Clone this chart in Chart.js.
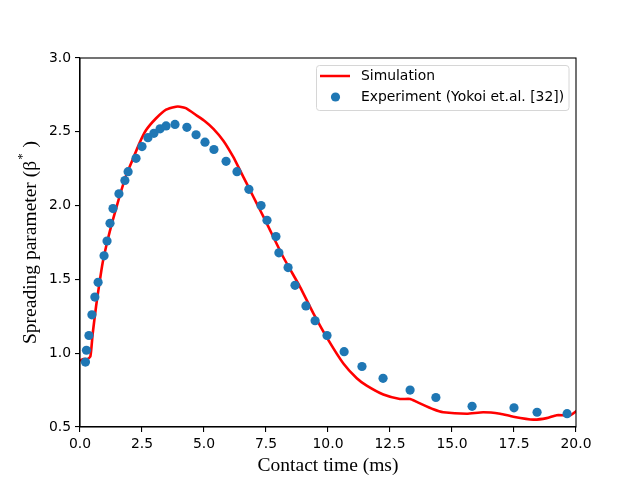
<!DOCTYPE html>
<html><head><meta charset="utf-8">
<script src="https://cdn.jsdelivr.net/npm/chart.js@4/dist/chart.umd.min.js"></script>
<style>html,body{margin:0;padding:0;background:#fff}canvas{display:block}</style>
</head><body>
<canvas id="c" width="640" height="480" style="width:640px;height:480px"></canvas>
<script>
// ---- data ----
const simTime = [0.0, 0.15, 0.3, 0.42, 0.51, 0.65, 0.78, 0.91, 1.12, 1.32, 1.59, 1.85, 2.12, 2.39, 2.66, 3.06, 3.47, 3.87, 4.03, 4.27, 4.71, 5.05, 5.38, 5.78, 6.18, 6.45, 6.72, 6.99, 7.26, 7.53, 8.20, 8.87, 9.41, 10.01, 10.62, 11.16, 11.56, 12.23, 12.90, 13.31, 13.58, 14.25, 14.65, 15.59, 16.26, 16.94, 17.47, 18.28, 18.82, 19.22, 19.76, 20.03];
const simSpread = [0.95, 0.96, 0.96, 0.98, 1.13, 1.32, 1.47, 1.61, 1.77, 1.90, 2.06, 2.20, 2.31, 2.42, 2.51, 2.59, 2.65, 2.67, 2.67, 2.66, 2.61, 2.57, 2.52, 2.44, 2.33, 2.24, 2.15, 2.06, 1.97, 1.88, 1.65, 1.45, 1.27, 1.09, 0.93, 0.83, 0.78, 0.72, 0.69, 0.69, 0.67, 0.62, 0.60, 0.59, 0.60, 0.59, 0.57, 0.55, 0.56, 0.58, 0.58, 0.61];
const expTime = [0.22, 0.26, 0.36, 0.48, 0.60, 0.73, 0.97, 1.09, 1.21, 1.33, 1.57, 1.81, 1.94, 2.26, 2.50, 2.74, 2.98, 3.23, 3.47, 3.83, 4.31, 4.68, 5.04, 5.40, 5.89, 6.33, 6.81, 7.30, 7.54, 7.90, 8.02, 8.39, 8.67, 9.11, 9.48, 9.96, 10.65, 11.37, 12.22, 13.31, 14.35, 15.81, 17.50, 18.43, 19.64];
const expSpread = [0.94, 1.02, 1.12, 1.26, 1.38, 1.48, 1.66, 1.76, 1.88, 1.98, 2.08, 2.17, 2.23, 2.32, 2.40, 2.46, 2.49, 2.52, 2.54, 2.55, 2.53, 2.48, 2.43, 2.38, 2.30, 2.23, 2.11, 2.00, 1.90, 1.79, 1.68, 1.58, 1.46, 1.32, 1.22, 1.12, 1.01, 0.91, 0.83, 0.75, 0.70, 0.64, 0.63, 0.60, 0.59];
const xTicks = [0, 2.5, 5, 7.5, 10, 12.5, 15, 17.5, 20];
const yTicks = [0.5, 1.0, 1.5, 2.0, 2.5, 3.0];
const seriesNames = ['Simulation', 'Experiment (Yokoi et.al. [32])'];
const xLabel = 'Contact time (ms)';
const yLabelParts = ['Spreading parameter (β', '*', ' )'];

const TICK_FONT = {family: 'DejaVu Sans', size: 13.9};
const SERIF = '"Liberation Serif", "Times New Roman", serif';

const framePlugin = {
  id: 'frame',
  afterDatasetsDraw(chart) {
    const {ctx, chartArea: a} = chart;
    ctx.save();
    ctx.strokeStyle = '#000';
    ctx.lineWidth = 1.1;
    ctx.strokeRect(a.left, a.top, a.right - a.left, a.bottom - a.top);
    ctx.restore();
  },
  afterDraw(chart) {
    const {ctx, chartArea: a} = chart;
    // y label with superscript
    ctx.save();
    const big = '19.5px ' + SERIF, small = '13px ' + SERIF;
    ctx.font = big; const w0 = ctx.measureText(yLabelParts[0]).width;
    ctx.font = small; const w1 = ctx.measureText(yLabelParts[1]).width;
    ctx.font = big; const w2 = ctx.measureText(yLabelParts[2]).width;
    const total = w0 + w1 + w2 + 2;
    ctx.translate(31, (a.top + a.bottom) / 2);
    ctx.rotate(-Math.PI / 2);
    ctx.fillStyle = '#000';
    ctx.textBaseline = 'middle';
    ctx.textAlign = 'left';
    let x = -total / 2;
    ctx.font = big; ctx.fillText(yLabelParts[0], x, 0); x += w0;
    ctx.font = small; ctx.fillText(yLabelParts[1], x + 1, -8); x += w1 + 2;
    ctx.font = big; ctx.fillText(yLabelParts[2], x, 0);
    ctx.restore();

    // legend
    ctx.save();
    const lx = 316.5, ly = 65.5, lw = 252.5, lh = 45;
    ctx.beginPath();
    ctx.roundRect(lx, ly, lw, lh, 3);
    ctx.fillStyle = 'rgba(255,255,255,0.8)';
    ctx.fill();
    ctx.strokeStyle = '#d6d6d6';
    ctx.lineWidth = 1;
    ctx.stroke();
    const ds = chart.data.datasets;
    ctx.strokeStyle = ds[0].borderColor;
    ctx.lineWidth = 2.5;
    ctx.beginPath(); ctx.moveTo(320, 76); ctx.lineTo(350, 76); ctx.stroke();
    ctx.fillStyle = ds[1].backgroundColor;
    ctx.beginPath(); ctx.arc(335.5, 97, 4.6, 0, Math.PI * 2); ctx.fill();
    ctx.fillStyle = '#000';
    ctx.font = '13.9px "DejaVu Sans"';
    ctx.textBaseline = 'middle';
    ctx.fillText(ds[0].label, 361, 76);
    ctx.fillText(ds[1].label, 361, 97);
    ctx.restore();
  }
};

new Chart(document.getElementById('c'), {
  type: 'scatter',
  data: {
    datasets: [
      {
        label: seriesNames[0],
        data: simTime.map((t, i) => ({x: t, y: simSpread[i]})),
        showLine: true,
        borderColor: '#ff0000',
        backgroundColor: '#ff0000',
        borderWidth: 2.6,
        pointRadius: 0,
        tension: 0.2,
        order: 1
      },
      {
        label: seriesNames[1],
        data: expTime.map((t, i) => ({x: t, y: expSpread[i]})),
        showLine: false,
        backgroundColor: '#1f77b4',
        borderColor: '#1f77b4',
        borderWidth: 0,
        pointRadius: 4.6,
        pointHoverRadius: 4.6,
        order: 0
      }
    ]
  },
  options: {
    responsive: false,
    devicePixelRatio: 1,
    animation: false,
    events: [],
    layout: {padding: {left: 0, right: 64, top: 58, bottom: 0}},
    plugins: {legend: {display: false}, tooltip: {enabled: false}},
    scales: {
      x: {
        type: 'linear', min: 0, max: 20,
        afterBuildTicks: s => { s.ticks = xTicks.map(v => ({value: v})); },
        afterFit: s => { s.height = 53; },
        grid: {display: true, drawOnChartArea: false, drawTicks: true, tickLength: 5, color: '#000', lineWidth: 1.1},
        border: {display: true, color: '#000', width: 1.1},
        ticks: {font: TICK_FONT, color: '#000', padding: 4, maxRotation: 0, callback: v => Number(v).toFixed(1)},
        title: {display: true, text: xLabel, color: '#000', font: {family: SERIF, size: 19.5}, padding: {top: 0, bottom: 2}}
      },
      y: {
        type: 'linear', min: 0.5, max: 3.0,
        afterBuildTicks: s => { s.ticks = yTicks.map(v => ({value: v})); },
        afterFit: s => { s.width = 80; },
        grid: {display: true, drawOnChartArea: false, drawTicks: true, tickLength: 5, color: '#000', lineWidth: 1.1},
        border: {display: true, color: '#000', width: 1.1},
        ticks: {font: TICK_FONT, color: '#000', padding: 4, callback: v => Number(v).toFixed(1)}
      }
    }
  },
  plugins: [framePlugin]
});
</script>
</body></html>
